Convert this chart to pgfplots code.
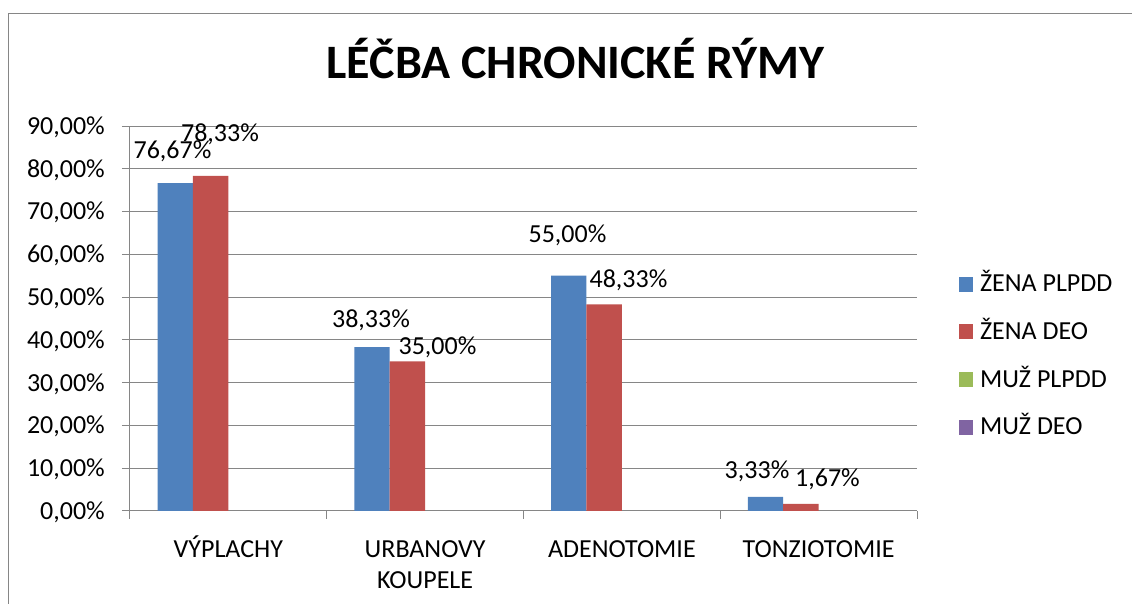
\documentclass[border=0pt]{standalone}
\usepackage{fontspec}
\setmainfont{Carlito}
\usepackage{pgfplots}
\pgfplotsset{compat=1.18}
\definecolor{cblue}{RGB}{79,129,189}
\definecolor{cred}{RGB}{192,80,77}
\definecolor{cgreen}{RGB}{155,187,89}
\definecolor{cpurple}{RGB}{128,100,162}
\definecolor{gridc}{RGB}{134,134,134}
\pgfplotsset{sq legend/.style={legend image code/.code={\fill[##1] (0pt,0pt) rectangle (14pt,15pt);}}}
\begin{document}
\fontsize{26}{31}\selectfont
\begin{tikzpicture}[x=1pt,y=1pt,font=\fontsize{26}{31}\selectfont]
\useasboundingbox (0,0) rectangle (1132,604);
\clip (0,0) rectangle (1132,604);
\fill[white] (0,0) rectangle (1132,604);
\draw[gridc, line width=1.5pt] (8.5,-20) -- (8.5,590.5) -- (1150,590.5);
\node[anchor=base, font=\bfseries\fontsize{48}{58}\selectfont] at (575.5,525) {LÉČBA CHRONICKÉ RÝMY};
\begin{axis}[
  at={(130pt,93pt)}, anchor=south west,
  scale only axis, width=787pt, height=385pt,
  xmin=-0.5, xmax=3.5, ymin=0, ymax=90,
  axis lines*=left,
  axis line style={gridc, line width=1pt},
  ytick={0,10,...,90},
  ymajorgrids, grid style={gridc, line width=1pt},
  tick align=outside, major tick length=8pt, minor tick length=8pt,
  tick style={gridc, line width=1pt},
  yticklabel={\pgfmathprintnumber[fixed,fixed zerofill,precision=2,use comma,assume math mode=true]{\tick}\%},
  /pgf/number format/assume math mode=true,
  yticklabel style={anchor=base east, inner sep=0pt, xshift=-17pt, yshift=-8.4pt},
  xtick={0,1,2,3},
  xticklabels={VÝPLACHY,{\begin{tabular}[t]{@{}c@{}}URBANOVY\\KOUPELE\end{tabular}},ADENOTOMIE,TONZIOTOMIE},
  xticklabel style={anchor=base, inner sep=0pt, yshift=-38.5pt},
  major x tick style={draw=none},
  minor xtick={-0.5,0.5,1.5,2.5,3.5},
  minor x tick style={gridc, line width=1pt},
  legend style={at={(1.0534,0.613)}, anchor=north west, draw=none, fill=none,
    inner sep=0pt, outer sep=0pt, row sep=31pt, column sep=7pt,
    cells={anchor=base west},
    nodes={inner sep=0pt, text height=16.7pt, text depth=0pt},
    font=\fontsize{26}{31}\selectfont},
  clip=false,
]
\addplot[ybar, bar width=35.4pt, bar shift=-53.1pt, fill=cblue, draw=none, sq legend]
  coordinates {(0,76.67) (1,38.33) (2,55.00) (3,3.33)};
\addlegendentry{ŽENA PLPDD}
\addplot[ybar, bar width=35.4pt, bar shift=-17.7pt, fill=cred, draw=none, sq legend]
  coordinates {(0,78.33) (1,35.00) (2,48.33) (3,1.67)};
\addlegendentry{ŽENA DEO}
\addlegendimage{fill=cgreen, draw=none, sq legend}
\addlegendentry{MUŽ PLPDD}
\addlegendimage{fill=cpurple, draw=none, sq legend}
\addlegendentry{MUŽ DEO}
\node[anchor=base] at (axis cs:-0.284,82.29) {76,67\%};
\node[anchor=base] at (axis cs:-0.0426,86.49) {78,33\%};
\node[anchor=base] at (axis cs:0.7249,42.78) {38,33\%};
\node[anchor=base] at (axis cs:1.0629,36.70) {35,00\%};
\node[anchor=base] at (axis cs:1.7236,62.65) {55,00\%};
\node[anchor=base] at (axis cs:2.0337,52.36) {48,33\%};
\node[anchor=base] at (axis cs:2.6868,7.71) {3,33\%};
\node[anchor=base] at (axis cs:3.0451,5.84) {1,67\%};
\end{axis}
\end{tikzpicture}
\end{document}
